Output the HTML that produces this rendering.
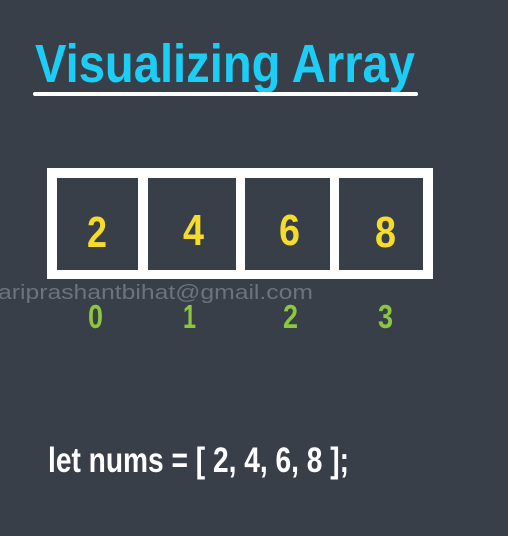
<!DOCTYPE html>
<html><head><meta charset="utf-8"><style>
html,body{margin:0;padding:0;background:#383f49;width:508px;height:536px;overflow:hidden}
</style></head><body>
<svg width="508" height="536" xmlns="http://www.w3.org/2000/svg" style="display:block">
<rect width="508" height="536" fill="#383f49"/>
<text x="35" y="82" font-family="Liberation Sans Narrow, Liberation Sans, sans-serif" font-weight="bold" font-size="54" fill="#1ccdf5" textLength="380" lengthAdjust="spacingAndGlyphs">Visualizing Array</text>
<rect x="33" y="92" width="385" height="4" rx="2" fill="#ffffff"/>
<rect x="47" y="168" width="386" height="111" fill="#ffffff"/>
<rect x="57" y="178" width="81" height="92" fill="#383f49"/>
<rect x="148" y="178" width="88" height="92" fill="#383f49"/>
<rect x="245" y="178" width="85" height="92" fill="#383f49"/>
<rect x="339" y="178" width="84" height="92" fill="#383f49"/>
<g font-family="Liberation Sans Narrow, Liberation Sans, sans-serif" font-weight="bold" font-size="44" fill="#f5dc2a">
<text x="87" y="247" textLength="20" lengthAdjust="spacingAndGlyphs">2</text>
<text x="183" y="245" textLength="21" lengthAdjust="spacingAndGlyphs">4</text>
<text x="279" y="245" textLength="21" lengthAdjust="spacingAndGlyphs">6</text>
<text x="375" y="247" textLength="21" lengthAdjust="spacingAndGlyphs">8</text>
</g>
<text x="-2" y="299" font-family="Liberation Sans, sans-serif" font-size="20" fill="#6d727b" textLength="315" lengthAdjust="spacingAndGlyphs">ariprashantbihat@gmail.com</text>
<g font-family="Liberation Sans Narrow, Liberation Sans, sans-serif" font-weight="bold" font-size="33" fill="#8cc63f">
<text x="88" y="328" textLength="15" lengthAdjust="spacingAndGlyphs">0</text>
<text x="183" y="328" textLength="13" lengthAdjust="spacingAndGlyphs">1</text>
<text x="283" y="328" textLength="15" lengthAdjust="spacingAndGlyphs">2</text>
<text x="378" y="328" textLength="15" lengthAdjust="spacingAndGlyphs">3</text>
</g>
<text x="48" y="472" font-family="Liberation Sans Narrow, Liberation Sans, sans-serif" font-weight="bold" font-size="35" fill="#ffffff" textLength="301" lengthAdjust="spacingAndGlyphs">let nums = [ 2, 4, 6, 8 ];</text>
</svg>
</body></html>
